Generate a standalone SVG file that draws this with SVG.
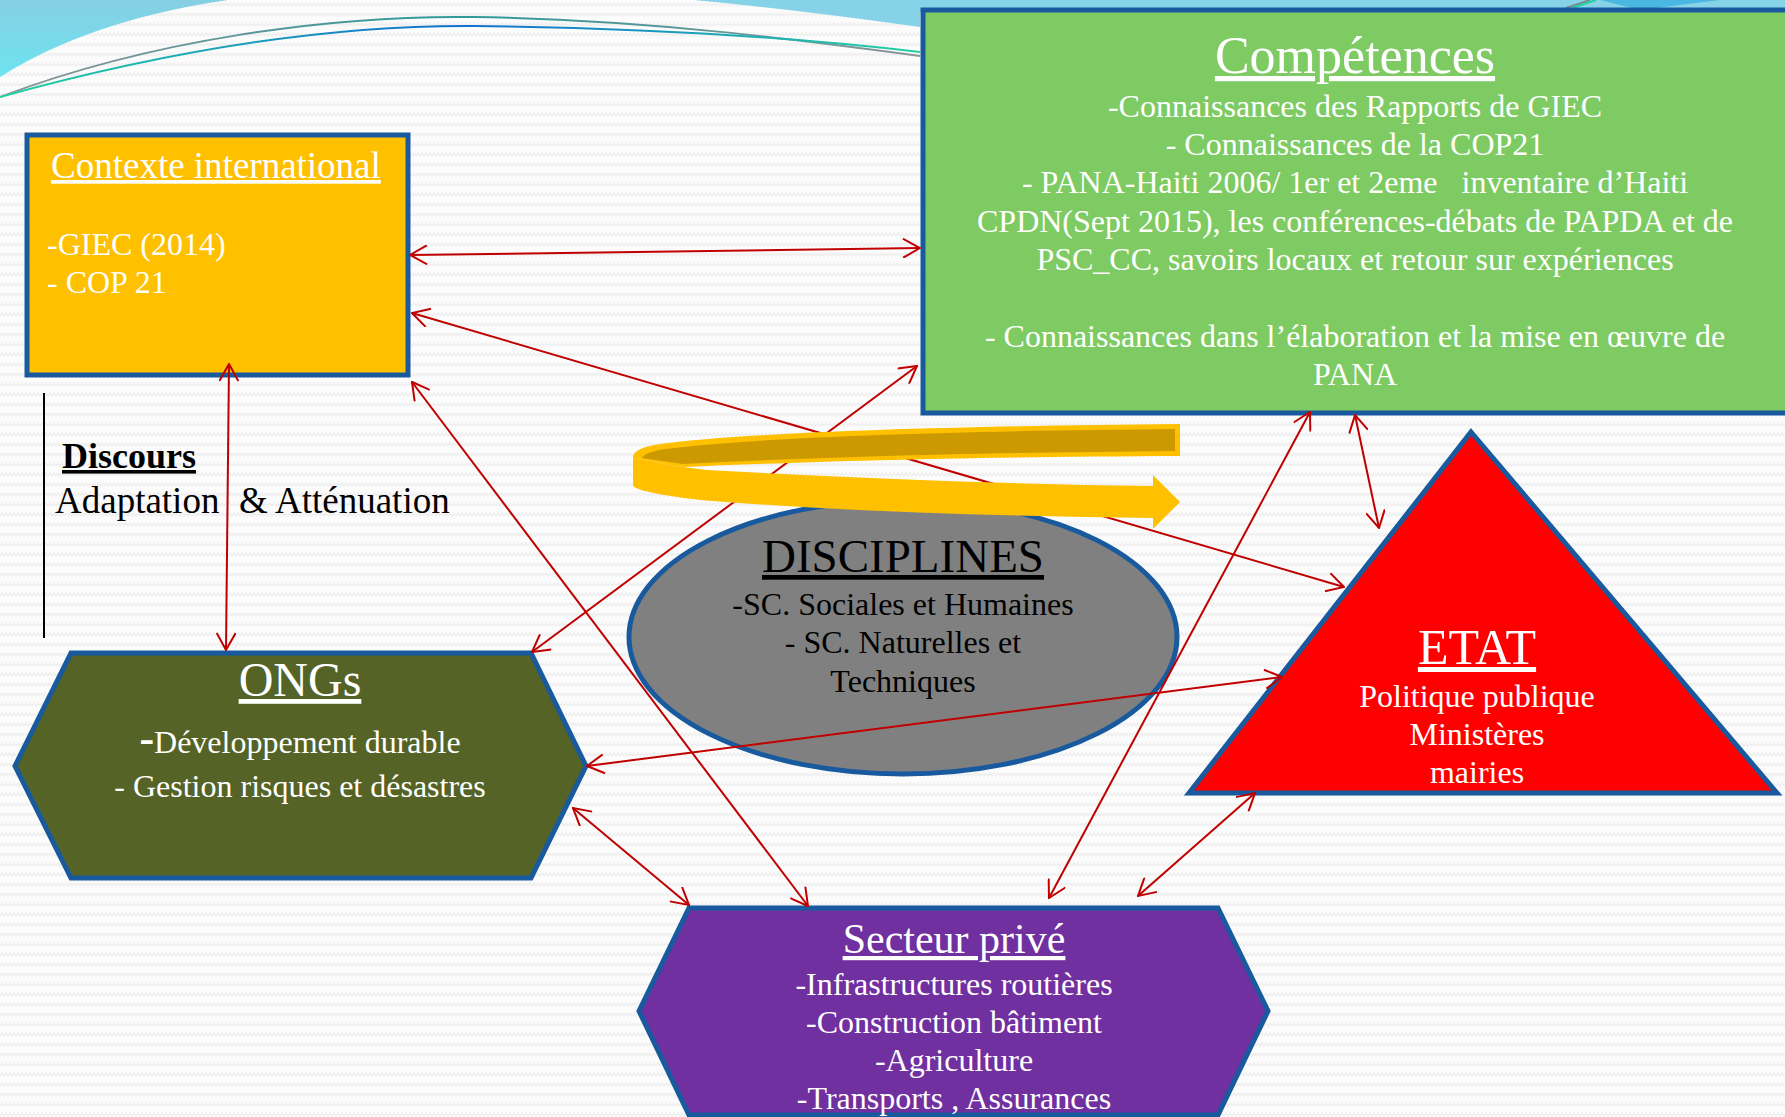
<svg xmlns="http://www.w3.org/2000/svg" width="1785" height="1117" viewBox="0 0 1785 1117">
<style>
.serif{font-family:"Liberation Serif","Times New Roman",serif}
.w{fill:#FFFFFF}
.k{fill:#000000}
.u{text-decoration:underline}
.mid{text-anchor:middle}
.node{stroke:#185A9D;stroke-width:5;stroke-linejoin:miter}
.conn{stroke:#C00000;stroke-width:2;fill:none;marker-start:url(#ah);marker-end:url(#ah)}
.t32{font-size:32px}
</style>
<defs>
<pattern id="bgp" width="8" height="10" patternUnits="userSpaceOnUse">
<rect width="8" height="10" fill="#FCFCFC"/>
<path d="M0,6 L2,3 L4,6 L6,3 L8,6" stroke="#EFEFEF" fill="none" stroke-width="1.5"/>
</pattern>
<linearGradient id="cyan" x1="0" y1="0" x2="0" y2="1">
<stop offset="0" stop-color="#86CFE3"/>
<stop offset="1" stop-color="#6DE4EF"/>
</linearGradient>
<linearGradient id="lineA" x1="0" y1="0" x2="920" y2="0" gradientUnits="userSpaceOnUse">
<stop offset="0" stop-color="#8E9497"/>
<stop offset="0.5" stop-color="#2E9A9C"/>
<stop offset="1" stop-color="#8E9497"/>
</linearGradient>
<linearGradient id="lineB" x1="0" y1="0" x2="920" y2="0" gradientUnits="userSpaceOnUse">
<stop offset="0" stop-color="#22D2A2"/>
<stop offset="0.5" stop-color="#1270D0"/>
<stop offset="1" stop-color="#22D2A2"/>
</linearGradient>
<marker id="ah" viewBox="0 0 20 20" refX="19" refY="10" markerWidth="20" markerHeight="20" markerUnits="userSpaceOnUse" orient="auto-start-reverse">
<path d="M2,0.5 L19,10 L2,19.5" fill="none" stroke="#C00000" stroke-width="2"/>
</marker>
</defs>

<g id="background">
<rect x="0" y="0" width="1785" height="1117" fill="url(#bgp)"/>
<path d="M0,0 L228,0 Q90,20 0,77 Z" fill="url(#cyan)"/>
<path d="M694,0 L1785,0 L1785,12 L920,12 L920,27 Q800,10 694,0 Z" fill="#86D3E8"/>
<path d="M1600,0 L1720,0 L1640,10 Z" fill="#4AB8E0"/>
<path d="M0,97 C150,40 330,15 474,17 C650,20 800,40 920,56" stroke="url(#lineA)" stroke-width="2" fill="none"/>
<path d="M0,97 C170,50 330,25 474,26 C650,28 800,38 920,52" stroke="url(#lineB)" stroke-width="2" fill="none"/>
<path d="M1566,8 L1590,0" stroke="#7A8A90" stroke-width="2" fill="none"/>
<path d="M1572,8 L1596,0" stroke="#22D2A2" stroke-width="2" fill="none"/>
</g>

<g id="contexte-international">
<rect class="node" x="27" y="135" width="381" height="240" fill="#FFC000"/>
<text class="serif w u" x="51" y="178" font-size="37">Contexte international</text>
<text class="serif w t32" x="47" y="255">-GIEC (2014)</text>
<text class="serif w t32" x="47" y="293">- COP 21</text>
</g>

<g id="discours">
<line x1="44" y1="393" x2="44" y2="638" stroke="#000000" stroke-width="2"/>
<text class="serif k u" x="62" y="468" font-size="36" font-weight="bold">Discours</text>
<text class="serif k" y="513" font-size="37"><tspan x="55">Adaptation</tspan><tspan x="239">&amp; Atténuation</tspan></text>
</g>

<g id="competences">
<rect class="node" x="923" y="10" width="870" height="403" fill="#7ECB63"/>
<text class="serif w u mid" x="1355" y="73" font-size="52">Compétences</text>
<text class="serif w mid t32" x="1355" y="117">-Connaissances des Rapports de GIEC</text>
<text class="serif w mid t32" x="1355" y="155">- Connaissances de la COP21</text>
<text class="serif w mid t32" x="1355" y="193" xml:space="preserve">- PANA-Haiti 2006/ 1er et 2eme   inventaire d’Haiti</text>
<text class="serif w mid t32" x="1355" y="232">CPDN(Sept 2015), les conférences-débats de PAPDA et de</text>
<text class="serif w mid t32" x="1355" y="270">PSC_CC, savoirs locaux et retour sur expériences</text>
<text class="serif w mid t32" x="1355" y="347">- Connaissances dans l’élaboration et la mise en œuvre de</text>
<text class="serif w mid t32" x="1355" y="385">PANA</text>
</g>

<g id="etat">
<polygon class="node" points="1471,432 1777,793 1189,793" fill="#FF0000"/>
<text class="serif w u mid" x="1477" y="664" font-size="50">ETAT</text>
<text class="serif w mid t32" x="1477" y="707">Politique publique</text>
<text class="serif w mid t32" x="1477" y="745">Ministères</text>
<text class="serif w mid t32" x="1477" y="783">mairies</text>
</g>

<g id="ongs">
<polygon class="node" points="15,766 71,653 531,653 586,766 531,878 71,878" fill="#556326"/>
<text class="serif w u mid" x="300" y="696" font-size="48">ONGs</text>
<text class="serif w mid t32" x="300" y="753"><tspan font-size="44" font-weight="bold">-</tspan>Développement durable</text>
<text class="serif w mid t32" x="300" y="797">- Gestion risques et désastres</text>
</g>

<g id="secteur-prive">
<polygon class="node" points="639,1011 689,908 1218,908 1268,1011 1218,1115 689,1115" fill="#7030A0"/>
<text class="serif w u mid" x="954" y="953" font-size="42">Secteur privé</text>
<text class="serif w mid t32" x="954" y="995">-Infrastructures routières</text>
<text class="serif w mid t32" x="954" y="1033">-Construction bâtiment</text>
<text class="serif w mid t32" x="954" y="1071">-Agriculture</text>
<text class="serif w mid t32" x="954" y="1109">-Transports , Assurances</text>
</g>

<g id="disciplines">
<ellipse class="node" cx="903" cy="637" rx="274" ry="137" fill="#808080"/>
<text class="serif k u mid" x="903" y="572" font-size="47">DISCIPLINES</text>
<text class="serif k mid t32" x="903" y="615">-SC. Sociales et Humaines</text>
<text class="serif k mid t32" x="903" y="653">- SC. Naturelles et</text>
<text class="serif k mid t32" x="903" y="692">Techniques</text>
</g>

<g id="connectors">
<line class="conn" x1="410" y1="255" x2="920" y2="248"/>
<line class="conn" x1="412" y1="313" x2="1344" y2="587"/>
<line class="conn" x1="412" y1="382" x2="808" y2="906"/>
<line class="conn" x1="229" y1="364" x2="226" y2="650"/>
<line class="conn" x1="532" y1="652" x2="917" y2="366"/>
<line class="conn" x1="587" y1="766" x2="1282" y2="677"/>
<line class="conn" x1="573" y1="808" x2="689" y2="905"/>
<line class="conn" x1="1049" y1="898" x2="1310" y2="412"/>
<line class="conn" x1="1138" y1="896" x2="1255" y2="793"/>
<line class="conn" x1="1355" y1="415" x2="1379" y2="528"/>
</g>

<g id="cycle-arrow">
<path d="M1180,424 C950,426 750,432 660,444 C640,447 633,452 633,458 L683,467 C800,462 950,457 1180,456 Z" fill="#FFC000"/>
<path d="M1175,429 C950,431 760,437 665,449 C652,451 644,454 642,458 L683,464 C800,458 950,453 1175,451 Z" fill="#CC9900"/>
<path d="M633,458 L683,467 L707,470 C850,478 1000,484 1153,486 L1153,475 L1180,502 L1153,529 L1153,518 C1000,516 850,512 700,500 C660,495 633,490 633,485 Z" fill="#FFC000"/>
</g>
</svg>
